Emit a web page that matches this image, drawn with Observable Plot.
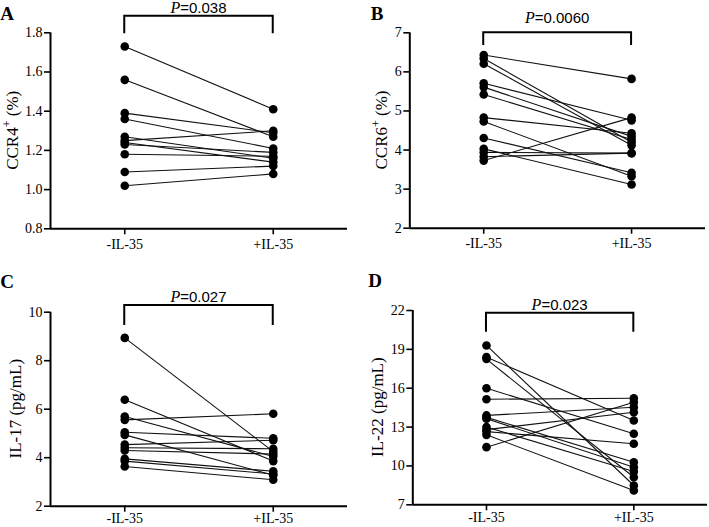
<!DOCTYPE html>
<html>
<head>
<meta charset="utf-8">
<script src="https://cdn.jsdelivr.net/npm/d3@7"></script>
<script src="https://cdn.jsdelivr.net/npm/@observablehq/plot@0.6"></script>
<style>
  html, body { margin: 0; padding: 0; background: #fff; }
  #fig { position: relative; width: 709px; height: 527px; background: #fff; }
  #fig svg { position: absolute; overflow: visible; }
</style>
</head>
<body>
<div id="fig"></div>
<script>
// ---- data ----
const categories = ["-IL-35", "+IL-35"];

const ccr4Before = [1.73, 1.56, 1.39, 1.36, 1.27, 1.25, 1.24, 1.23, 1.18, 1.09, 1.02];
const ccr4After  = [1.41, 1.27, 1.29, 1.21, 1.16, 1.30, 1.14, 1.19, 1.17, 1.12, 1.08];

const ccr6Before = [6.43, 6.34, 6.21, 5.71, 5.61, 5.42, 4.83, 4.73, 4.31, 4.03, 3.94, 3.83, 3.73];
const ccr6After  = [5.82, 4.20, 4.12, 4.76, 4.35, 4.27, 4.43, 3.33, 3.42, 3.12, 3.92, 3.92, 4.83];

const il17Before = [8.94, 6.39, 5.70, 5.56, 5.05, 4.94, 4.54, 4.41, 4.30, 3.95, 3.86, 3.64];
const il17After  = [4.25, 3.86, 4.05, 5.81, 4.80, 3.28, 4.72, 4.37, 4.15, 3.44, 3.33, 3.09];

const il22Before = [19.3, 18.4, 18.25, 16.0, 15.15, 13.9, 13.75, 13.65, 13.0, 12.8, 12.65, 12.4, 11.45];
const il22After  = [8.49, 13.51, 9.13, 12.48, 15.23, 14.53, 10.29, 9.90, 9.57, 14.15, 11.71, 8.10, 14.92];

const ticksA = [0.8, 1.0, 1.2, 1.4, 1.6, 1.8];
const ticksB = [2, 3, 4, 5, 6, 7];
const ticksC = [2, 4, 6, 8, 10];
const ticksD = [7, 10, 13, 16, 19, 22];

const pValues = ["0.038", "0.0060", "0.027", "0.023"];
const panelLetters = ["A", "B", "C", "D"];
const yLabels = [
  ["CCR4", "+", " (%)"],
  ["CCR6", "+", " (%)"],
  ["IL-17 (pg/mL)", "", ""],
  ["IL-22 (pg/mL)", "", ""]
];

// ---- layout ----
const panels = [
  {before: ccr4Before, after: ccr4After, ticks: ticksA, fmt: d3.format(".1f"),
   left: 0, top: 0, width: 355, height: 265, mt: 32.3, mb: 36.7, ml: 50, mr: 8, xpad: 4,
   labelX: 12.5, brY: 15.7, brDrop: 33.3, pY: 13.3, letterX: 7, letterY: 20},
  {before: ccr6Before, after: ccr6After, ticks: ticksB, fmt: d3.format("d"),
   left: 355, top: 0, width: 354, height: 265, mt: 32.3, mb: 37.3, ml: 54.3, mr: 4, xpad: 4,
   labelX: 26.5, brY: 32.3, brDrop: 45, pY: 23, letterX: 22, letterY: 20},
  {before: il17Before, after: il17After, ticks: ticksC, fmt: d3.format("d"),
   left: 0, top: 265, width: 355, height: 262, mt: 46.7, mb: 21.3, ml: 50, mr: 8, xpad: 1,
   labelX: 15, brY: 40, brDrop: 60, pY: 36.7, letterX: 7, letterY: 23},
  {before: il22Before, after: il22After, ticks: ticksD, fmt: d3.format("d"),
   left: 355, top: 265, width: 354, height: 262, mt: 45, mb: 22.7, ml: 57.3, mr: 2, xpad: 1,
   labelX: 21.7, brY: 47.7, brDrop: 66.7, pY: 45, letterX: 20, letterY: 22}
];

const fig = document.getElementById("fig");
const serif = "'Liberation Serif', 'Times New Roman', serif";
const sans = "'Liberation Sans', Arial, sans-serif";

panels.forEach((p, k) => {
  const pairs = p.before.map((b, i) => ({before: b, after: p.after[i]}));
  const long = [];
  p.before.forEach(v => long.push({g: 0, value: v}));
  p.after.forEach(v => long.push({g: 1, value: v}));
  const yDom = [p.ticks[0], p.ticks[p.ticks.length - 1]];

  const plot = Plot.plot({
    width: p.width,
    height: p.height,
    marginTop: p.mt,
    marginBottom: p.mb,
    marginLeft: p.ml,
    marginRight: p.mr,
    style: {fontFamily: serif, fontSize: "14px", color: "black", background: "transparent", overflow: "visible"},
    x: {domain: [-0.5, 1.5], axis: null},
    y: {domain: yDom, axis: null},
    marks: [
      Plot.axisY({ticks: p.ticks, tickFormat: p.fmt, tickSize: 6, tickPadding: 2, strokeWidth: 1.6, fontSize: 14, label: null}),
      Plot.axisX({ticks: [0, 1], tickFormat: i => categories[i], tickSize: 6, tickPadding: p.xpad, strokeWidth: 1.6, fontSize: 14, label: null}),
      Plot.ruleX([-0.5], {y1: yDom[0], y2: yDom[1], strokeWidth: 2, stroke: "black"}),
      Plot.ruleY([yDom[0]], {strokeWidth: 2, stroke: "black"}),
      Plot.link(pairs, {x1: () => 0, x2: () => 1, y1: "before", y2: "after", stroke: "#111", strokeWidth: 1.1}),
      Plot.dot(long, {x: "g", y: "value", r: 4.3, fill: "black", stroke: "none"})
    ]
  });

  plot.style.left = p.left + "px";
  plot.style.top = p.top + "px";
  fig.appendChild(plot);

  const svg = d3.select(plot);
  const sx = plot.scale("x");
  const x0 = sx.apply(0), x1 = sx.apply(1);

  // significance bracket
  svg.append("path")
    .attr("d", `M${x0},${p.brDrop}V${p.brY}H${x1}V${p.brDrop}`)
    .attr("fill", "none").attr("stroke", "black").attr("stroke-width", 2);
  const pt = svg.append("text")
    .attr("x", (x0 + x1) / 2).attr("y", p.pY)
    .attr("text-anchor", "middle")
    .attr("font-family", sans).attr("font-size", 15).attr("fill", "black");
  pt.append("tspan").attr("font-style", "italic").attr("font-family", serif).attr("font-size", 16).text("P");
  pt.append("tspan").text("=" + pValues[k]);

  // panel letter
  svg.append("text")
    .attr("x", p.letterX).attr("y", p.letterY)
    .attr("font-family", serif).attr("font-weight", "bold").attr("font-size", 19)
    .attr("fill", "black").text(panelLetters[k]);

  // y axis label
  const cy = (p.mt + (p.height - p.mb)) / 2;
  const lbl = svg.append("text")
    .attr("transform", `translate(${p.labelX},${cy}) rotate(-90)`)
    .attr("text-anchor", "middle").attr("dy", "0.35em")
    .attr("font-family", serif).attr("font-size", 17).attr("fill", "black");
  const parts = yLabels[k];
  lbl.append("tspan").text(parts[0]);
  if (parts[1]) {
    lbl.append("tspan").attr("dy", -7).attr("font-size", 12).text(parts[1]);
    lbl.append("tspan").attr("dy", 7).text(parts[2]);
  }
});
</script>
</body>
</html>
